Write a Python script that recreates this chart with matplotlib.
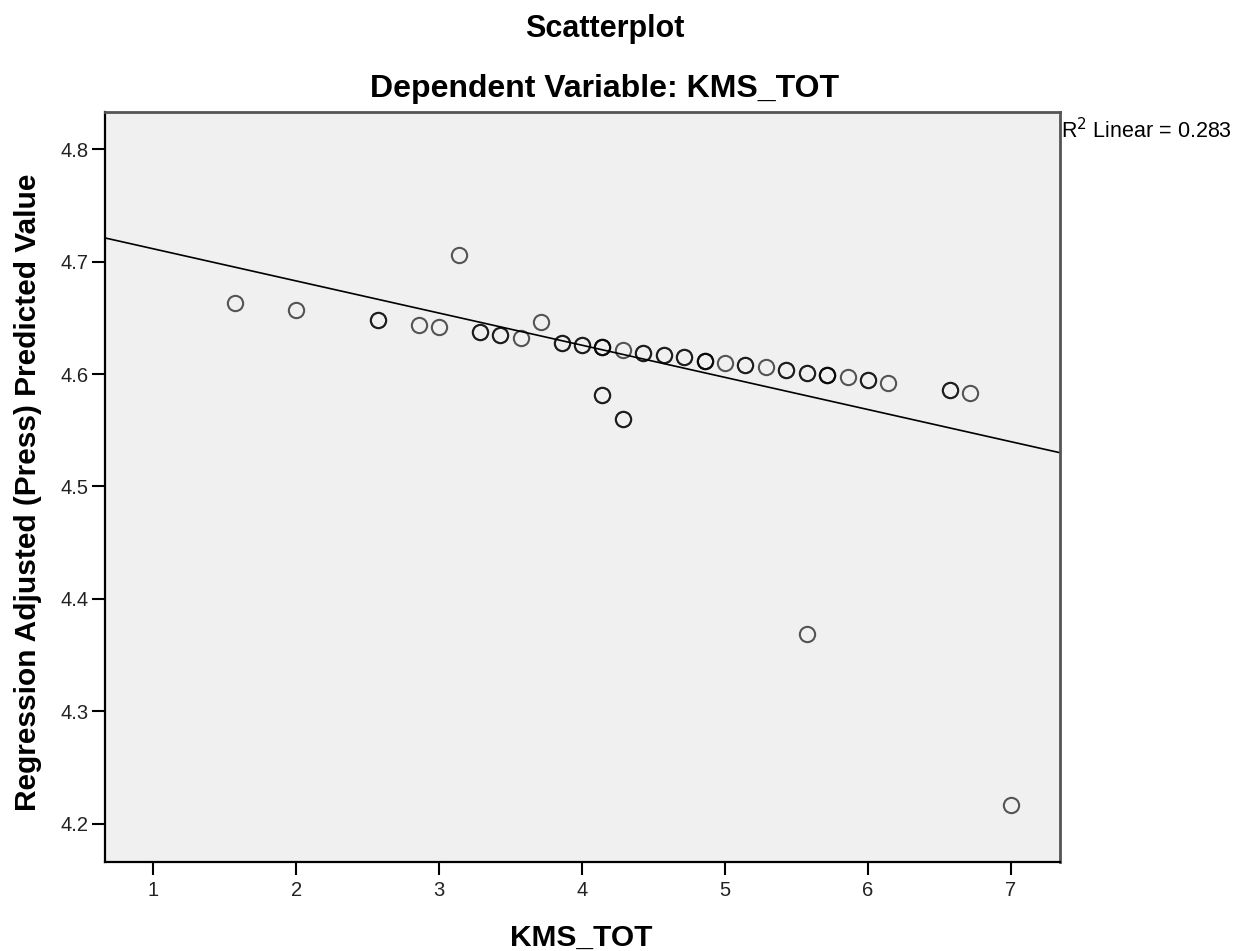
import matplotlib
matplotlib.use("Agg")
import matplotlib.pyplot as plt
import numpy as np

plt.rcParams['font.family'] = ['Liberation Sans', 'DejaVu Sans']

# KMS_TOT values, adjusted predicted values, and number of cases at each spot
kms_tot = [1.571, 2.000, 2.571, 2.857, 3.000, 3.143, 3.286, 3.429, 3.571, 3.714,
           3.857, 4.000, 4.143, 4.143, 4.286, 4.286, 4.429, 4.571, 4.714, 4.857,
           5.000, 5.143, 5.286, 5.429, 5.571, 5.571, 5.714, 5.857, 6.000, 6.143,
           6.571, 6.714, 7.000]
adj_pred = [4.663, 4.657, 4.648, 4.644, 4.642, 4.706, 4.637, 4.635, 4.632, 4.646,
            4.628, 4.626, 4.624, 4.581, 4.621, 4.560, 4.619, 4.617, 4.615, 4.612,
            4.610, 4.608, 4.606, 4.604, 4.601, 4.369, 4.599, 4.597, 4.595, 4.592,
            4.586, 4.583, 4.217]
n_cases = [1, 1, 2, 1, 1, 1, 2, 2, 1, 1,
           2, 2, 3, 2, 1, 2, 2, 2, 2, 3,
           1, 2, 1, 2, 2, 1, 3, 1, 2, 1,
           2, 1, 1]

fit_intercept = 4.740
fit_slope = -0.0286
r2_linear = 0.283

x_ticks = [1, 2, 3, 4, 5, 6, 7]
y_ticks = [4.2, 4.3, 4.4, 4.5, 4.6, 4.7, 4.8]
x_lim = (0.664, 7.343)
y_lim = (4.166, 4.833)

fig = plt.figure(figsize=(12.33, 9.51), dpi=100)
ax = fig.add_axes([0.0852, 0.0936, 0.7745, 0.7886])
ax.set_facecolor('#f0f0f0')

# overlapping cases get drawn on top of each other so they come out darker
for x, y, n in zip(kms_tot, adj_pred, n_cases):
    for i in range(n):
        ax.plot(x, y, marker='o', markersize=11, markerfacecolor='none',
                markeredgecolor='black', markeredgewidth=1.5, alpha=0.65,
                linestyle='none')

xs = np.array(x_lim)
ax.plot(xs, fit_intercept + fit_slope * xs, color='black', linewidth=1.2)

ax.set_xlim(x_lim)
ax.set_ylim(y_lim)
ax.set_xticks(x_ticks)
ax.set_yticks(y_ticks)
ax.set_xticklabels([str(t) for t in x_ticks])
ax.set_yticklabels(['%.1f' % t for t in y_ticks])
ax.tick_params(axis='both', direction='out', length=9.5, width=1.5,
               labelsize=14.5, labelcolor='#222222')
ax.tick_params(axis='y', pad=2.5)
ax.tick_params(axis='x', pad=4)

for side in ['left', 'bottom']:
    ax.spines[side].set_color('black')
    ax.spines[side].set_linewidth(1.6)
for side in ['top', 'right']:
    ax.spines[side].set_color('#555555')
    ax.spines[side].set_linewidth(2.0)

fig.text(605 / 1233, 1 - 29 / 951, 'Scatterplot', ha='center', va='center',
         fontsize=22, fontweight='bold')
fig.text(605 / 1233, 1 - 89 / 951, 'Dependent Variable: KMS_TOT', ha='center',
         va='center', fontsize=23, fontweight='bold')
fig.text(1061 / 1233, 1 - 131 / 951, r'R$^2$ Linear = %.3f' % r2_linear,
         ha='left', va='center', fontsize=15.5)

fig.text(581 / 1233, 1 - 946 / 951, 'KMS_TOT', ha='center', va='baseline',
         fontsize=21.5, fontweight='bold')
fig.text(28 / 1233, 1 - 492 / 951, 'Regression Adjusted (Press) Predicted Value',
         ha='center', va='center', rotation=90, fontsize=21.5, fontweight='bold')

fig.savefig('out.png', dpi=100)
